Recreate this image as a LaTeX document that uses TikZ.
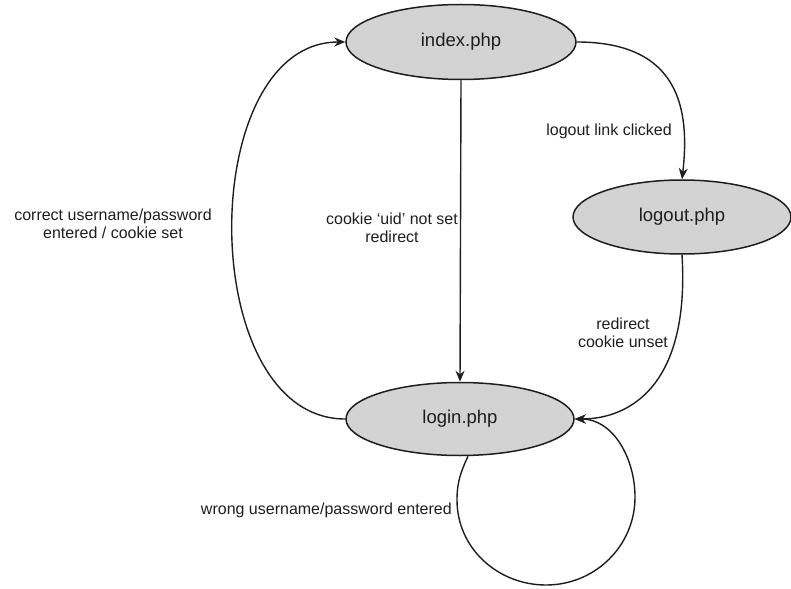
\documentclass[tikz,border=0pt]{standalone}
\usepackage{fontspec}
\setmainfont{Liberation Sans}
\usetikzlibrary{shapes.geometric,arrows.meta}
\definecolor{statefill}{RGB}{211,211,211}
\definecolor{ink}{RGB}{30,30,30}
\begin{document}
\begin{tikzpicture}[x=1pt,y=1pt,
  state/.style={ellipse,draw=ink,line width=1.5pt,fill=statefill,inner sep=0pt,font=\fontsize{18.5}{22}\selectfont,text=ink},
  edge/.style={draw=ink,line width=1.4pt,-{Stealth[length=11pt,width=9pt]}},
  lbl/.style={font=\fontsize{16}{18}\selectfont,text=ink,align=center,inner sep=0pt}]
\useasboundingbox (0,0) rectangle (791,-588);
\node[state,minimum width=230pt,minimum height=75pt] (index) at (461,-42) {index.php};
\node[state,minimum width=218pt,minimum height=74pt] (logout) at (682,-217) {logout.php};
\node[state,minimum width=228pt,minimum height=73pt] (login) at (460,-419) {login.php};
\draw[edge] (index.south) -- (login.north);
\draw[edge] (index.east) .. controls (680,-42) and (690,-110) .. (logout.north);
\draw[edge] (logout.south) .. controls (690,-385) and (630,-419) .. (login.east);
\draw[edge] (login.west) .. controls (195,-419) and (195,-42) .. (index.west);
\draw[edge] (login.south) ++(8,0) coordinate (ls)
  (ls) to[out=245,in=90] (457,-500) to[out=270,in=180] (546,-585)
  to[out=0,in=270] (635,-497) to[out=90,in=0] (login.east);
\node[lbl] (l1) at (392,-228) {cookie ‘uid’ not set\\redirect};
\node[lbl] (l2) at (609,-131) {logout link clicked};
\node[lbl] (l3) at (623,-333) {redirect\\cookie unset};
\node[lbl] (l4) at (113,-224) {correct username/password\\entered / cookie set};
\node[lbl,anchor=east] (l5) at (452,-510) {wrong username/password entered};
\end{tikzpicture}
\end{document}
